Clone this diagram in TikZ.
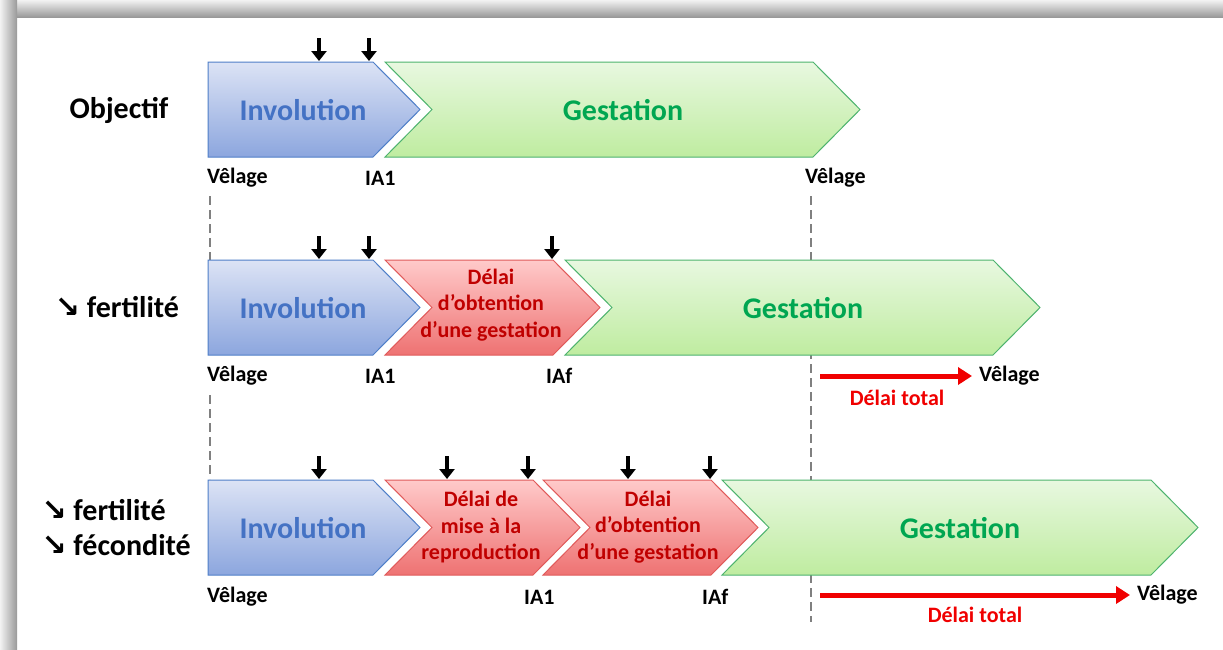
\documentclass[tikz,border=0pt]{standalone}
\usepackage{fontspec}
\setmainfont{Carlito}
\newfontfamily\arrowfont{DejaVu Sans}
\usetikzlibrary{arrows.meta}

\definecolor{invoTop}{HTML}{DCE3F5}
\definecolor{invoBot}{HTML}{8CA6DE}
\definecolor{invoLine}{HTML}{4F7FC8}
\definecolor{invoText}{HTML}{4472C4}
\definecolor{gestTop}{HTML}{E8F8E0}
\definecolor{gestBot}{HTML}{BFECA0}
\definecolor{gestLine}{HTML}{4DB36E}
\definecolor{gestText}{HTML}{00A651}
\definecolor{delTop}{HTML}{FFCACA}
\definecolor{delBot}{HTML}{EE7272}
\definecolor{delLine}{HTML}{E05A5A}
\definecolor{delText}{HTML}{C00000}
\definecolor{totalRed}{HTML}{F00000}

% chevron without / with notch: style, left x, right x of body, top y
\newcommand{\phaseA}[4]{%
  \path[#1] (#2,#4) -- (#3,#4) -- ++(47,47.5) -- (#3,#4+95) -- (#2,#4+95) -- cycle;}
\newcommand{\phaseB}[4]{%
  \path[#1] (#2,#4) -- (#3,#4) -- ++(47,47.5) -- (#3,#4+95) -- (#2,#4+95) -- ++(47,-47.5) -- cycle;}
\newcommand{\down}{{\arrowfont\fontsize{30}{30}\selectfont ↘}}

\begin{document}
\begin{tikzpicture}[x=1pt, y=-1pt,
    every node/.style={font=\bfseries},
    invo/.style={top color=invoTop, bottom color=invoBot, draw=invoLine, line width=1pt},
    gest/.style={top color=gestTop, bottom color=gestBot, draw=gestLine, line width=1pt},
    delai/.style={top color=delTop, bottom color=delBot, draw=delLine, line width=1pt},
    big/.style={font=\fontsize{30}{36}\selectfont\bfseries},
    delaitxt/.style={font=\fontsize{22}{26.5}\selectfont\bfseries, align=center, text=delText},
    lbl/.style={font=\fontsize{22}{26}\selectfont\bfseries, anchor=west, inner sep=1pt},
    ia/.style={-{Triangle[length=10pt,width=15pt]}, line width=4pt, black},
    total/.style={-{Triangle[length=14pt,width=17pt]}, line width=5pt, totalRed, shorten >=6pt},
    vline/.style={dash pattern=on 9pt off 5pt, line width=2.5pt, black!50},
]
\useasboundingbox (0,0) rectangle (1223,649);

% frame with shadow
\fill[white] (0,0) rectangle (1223,649);
\shade[top color=black!5, bottom color=black!40] (0,0) rectangle (1223,17);
\shade[left color=black!5, right color=black!40] (0,0) rectangle (17,649);

% dashed guides
\draw[vline] (210,196) -- (210,260);
\draw[vline] (210,395) -- (210,479);
\draw[vline] (811,196) -- (811,622);

% Objectif
\phaseA{invo}{208}{373}{62}
\phaseB{gest}{385}{813}{62}
\node[big] (obj) at (119,110) {Objectif};
\node[big, text=invoText] (i1) at (303,110) {Involution};
\node[big, text=gestText] (g1) at (623,110) {Gestation};
\node[lbl] (v1a) at (206,178) {Vêlage};
\node[lbl] (a1a) at (364,178) {IA1};
\node[lbl] (v1b) at (804,178) {Vêlage};
\foreach \x in {319,369}
    \draw[ia] (\x,38) -- (\x,61);

% fertilite
\phaseA{invo}{208}{373}{260}
\phaseB{delai}{385}{553}{260}
\phaseB{gest}{565}{993}{260}
\node[big] (fer) at (117,307) {\down{} fertilité};
\node[big, text=invoText] (i2) at (303,308) {Involution};
\node[delaitxt] (d2) at (491,305) {Délai\\d’obtention\\d’une gestation};
\node[big, text=gestText] (g2) at (803,308) {Gestation};
\node[lbl] (v2a) at (206,376) {Vêlage};
\node[lbl] (a2a) at (364,376) {IA1};
\node[lbl] (a2f) at (545,376) {IAf};
\node[lbl] (v2b) at (978,376) {Vêlage};
\node[font=\fontsize{22}{26}\selectfont\bfseries, text=totalRed] (t2) at (897,398) {Délai total};
\draw[total] (820,376) -- (v2b.west);
\foreach \x in {319,369,552}
    \draw[ia] (\x,236) -- (\x,259);

% fertilite et fecondite
\phaseA{invo}{208}{373}{480}
\phaseB{delai}{385}{533}{480}
\phaseB{delai}{543}{711}{480}
\phaseB{gest}{722}{1151}{480}
\node[big, anchor=west, align=left, font=\fontsize{30}{35}\selectfont\bfseries] (fec) at (38,528)
    {\down{} fertilité\\\down{} fécondité};
\node[big, text=invoText] (i3) at (303,528) {Involution};
\node[delaitxt] (m3) at (481,527) {Délai de\\mise à la\\reproduction};
\node[delaitxt] (d3) at (648,527) {Délai\\d’obtention\\d’une gestation};
\node[big, text=gestText] (g3) at (960,528) {Gestation};
\node[lbl] (v3a) at (206,597) {Vêlage};
\node[lbl] (a3a) at (523,597) {IA1};
\node[lbl] (a3f) at (701,597) {IAf};
\node[lbl] (v3b) at (1136,595) {Vêlage};
\node[font=\fontsize{22}{26}\selectfont\bfseries, text=totalRed] (t3) at (975,615) {Délai total};
\draw[total] (820,595) -- (v3b.west);
\foreach \x in {319,447,528,628,710}
    \draw[ia] (\x,456) -- (\x,479);

\end{tikzpicture}
\end{document}
